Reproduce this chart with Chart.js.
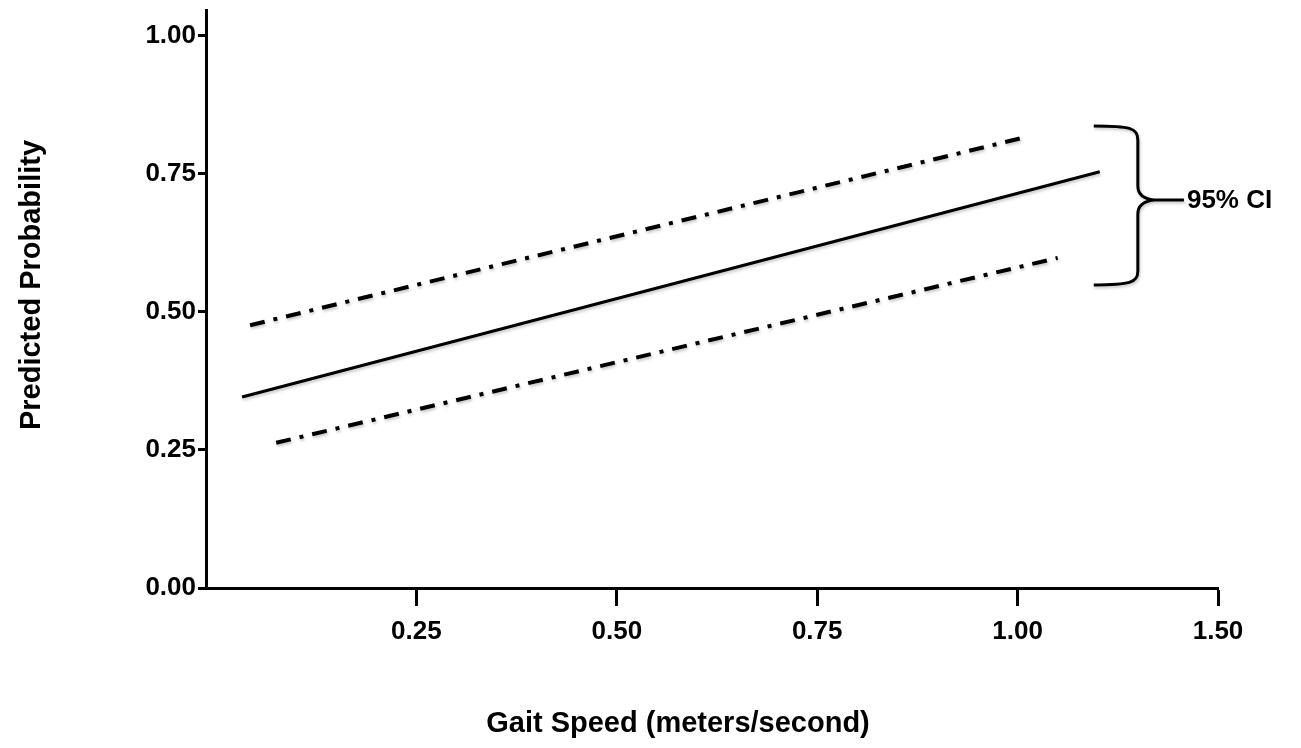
<!DOCTYPE html>
<html>
<head>
<meta charset="utf-8">
<script src="https://cdn.jsdelivr.net/npm/chart.js@4"></script>
<style>
  html, body { margin: 0; padding: 0; background: #fff; }
  #wrap { width: 1301px; height: 748px; position: relative; }
</style>
</head>
<body>
<div id="wrap"><canvas id="gaitChart"></canvas></div>
<script>
// x values are positions along the (unevenly labelled) gait speed axis: tick n sits at n
const xTickValues = [1, 2, 3, 4, 5];
const xTickLabels = ['0.25', '0.50', '0.75', '1.00', '1.50'];
const yTickValues = [0, 0.25, 0.5, 0.75, 1.0];

const predictedX = [0.13, 4.41];
const predictedY = [0.346, 0.754];
const upperCiX = [0.17, 4.02];
const upperCiY = [0.476, 0.815];
const lowerCiX = [0.30, 4.20];
const lowerCiY = [0.263, 0.598];

// brace marking the 95% CI band (in axis units)
const braceX = { start: 4.38, stem: 4.60, tip: 4.68, end: 4.83 };
const braceY = { top: 0.837, mid: 0.703, bottom: 0.549 };
const braceLabel = '95% CI';

const xTitle = 'Gait Speed (meters/second)';
const yTitle = 'Predicted Probability';

const FONT = "'Liberation Sans', Arial, Helvetica, sans-serif";

const toPoints = (xs, ys) => xs.map((x, i) => ({ x: x, y: ys[i] }));

const bracePlugin = {
    id: 'ciBrace',
    beforeDatasetsDraw(chart) {
        const ctx = chart.ctx;
        ctx.save();
        ctx.shadowColor = 'rgba(0,0,0,0.22)';
        ctx.shadowBlur = 3;
        ctx.shadowOffsetX = 1;
        ctx.shadowOffsetY = 2;
    },
    afterDatasetsDraw(chart) {
        const ctx = chart.ctx;
        const xs = chart.scales.x, ys = chart.scales.y;
        const x0 = xs.getPixelForValue(braceX.start);
        const xs1 = xs.getPixelForValue(braceX.stem);
        const xt = xs.getPixelForValue(braceX.tip);
        const xe = xs.getPixelForValue(braceX.end);
        const yt = ys.getPixelForValue(braceY.top);
        const ym = ys.getPixelForValue(braceY.mid);
        const yb = ys.getPixelForValue(braceY.bottom);

        ctx.strokeStyle = '#000';
        ctx.lineWidth = 3;
        ctx.beginPath();
        ctx.moveTo(x0, yt);
        ctx.bezierCurveTo(xs1 - 8, yt, xs1, yt + 2, xs1, yt + 14);
        ctx.lineTo(xs1, ym - 14);
        ctx.quadraticCurveTo(xs1, ym - 2, xt, ym);
        ctx.quadraticCurveTo(xs1, ym + 2, xs1, ym + 14);
        ctx.lineTo(xs1, yb - 14);
        ctx.bezierCurveTo(xs1, yb - 2, xs1 - 8, yb, x0, yb);
        ctx.moveTo(xt, ym);
        ctx.lineTo(xe, ym);
        ctx.stroke();
        ctx.restore();

        ctx.save();
        ctx.fillStyle = '#000';
        ctx.font = 'bold 26px ' + FONT;
        ctx.textBaseline = 'middle';
        ctx.textAlign = 'left';
        ctx.fillText(braceLabel, xe + 3, ym + 1);
        ctx.restore();
    },
    afterDraw(chart) {
        // axis titles, placed where the original figure has them
        const ctx = chart.ctx;
        const area = chart.chartArea;
        ctx.save();
        ctx.fillStyle = '#000';
        ctx.font = 'bold 29px ' + FONT;
        ctx.textAlign = 'center';
        ctx.textBaseline = 'middle';
        ctx.fillText(xTitle, (area.left + area.right) / 2 - 34, chart.height - 24);
        ctx.translate(32, (area.top + area.bottom) / 2 - 14);
        ctx.rotate(-Math.PI / 2);
        ctx.fillText(yTitle, 0, 0);
        ctx.restore();
    }
};

new Chart(document.getElementById('gaitChart'), {
    type: 'scatter',
    data: {
        datasets: [
            {
                label: 'Predicted',
                data: toPoints(predictedX, predictedY),
                showLine: true,
                borderColor: '#000',
                borderWidth: 3,
                pointRadius: 0
            },
            {
                label: 'Upper 95% CI',
                data: toPoints(upperCiX, upperCiY),
                showLine: true,
                borderColor: '#000',
                borderWidth: 4,
                borderDash: [15, 9, 4, 9],
                pointRadius: 0
            },
            {
                label: 'Lower 95% CI',
                data: toPoints(lowerCiX, lowerCiY),
                showLine: true,
                borderColor: '#000',
                borderWidth: 4,
                borderDash: [15, 9, 4, 9],
                pointRadius: 0
            }
        ]
    },
    options: {
        responsive: true,
        maintainAspectRatio: false,
        animation: false,
        layout: {
            padding: { top: 10, right: 83, left: 0, bottom: 0 }
        },
        plugins: {
            legend: { display: false },
            tooltip: { enabled: false }
        },
        scales: {
            x: {
                type: 'linear',
                min: -0.05,
                max: 5.0,
                afterBuildTicks: (scale) => { scale.ticks = xTickValues.map(v => ({ value: v })); },
                afterFit: (scale) => { scale.height = 160; },
                border: { display: true, color: '#000', width: 3 },
                grid: { drawOnChartArea: false, drawTicks: true, tickLength: 18, tickColor: '#000', tickWidth: 3 },
                ticks: {
                    color: '#000',
                    padding: 10,
                    maxRotation: 0,
                    font: { family: FONT, size: 26, weight: 'bold' },
                    callback: (v) => xTickLabels[xTickValues.indexOf(v)]
                }
            },
            y: {
                type: 'linear',
                min: 0,
                max: 1.047,
                afterBuildTicks: (scale) => { scale.ticks = yTickValues.map(v => ({ value: v })); },
                afterFit: (scale) => {
                    scale.width = 206;
                    scale.paddingTop = 0;
                    scale.paddingBottom = 0;
                },
                border: { display: true, color: '#000', width: 3 },
                grid: { drawOnChartArea: false, drawTicks: true, tickLength: 8, tickColor: '#000', tickWidth: 3 },
                ticks: {
                    color: '#000',
                    padding: 2,
                    font: { family: FONT, size: 26, weight: 'bold' },
                    callback: (v) => v.toFixed(2)
                }
            }
        }
    },
    plugins: [bracePlugin]
});
</script>
</body>
</html>
